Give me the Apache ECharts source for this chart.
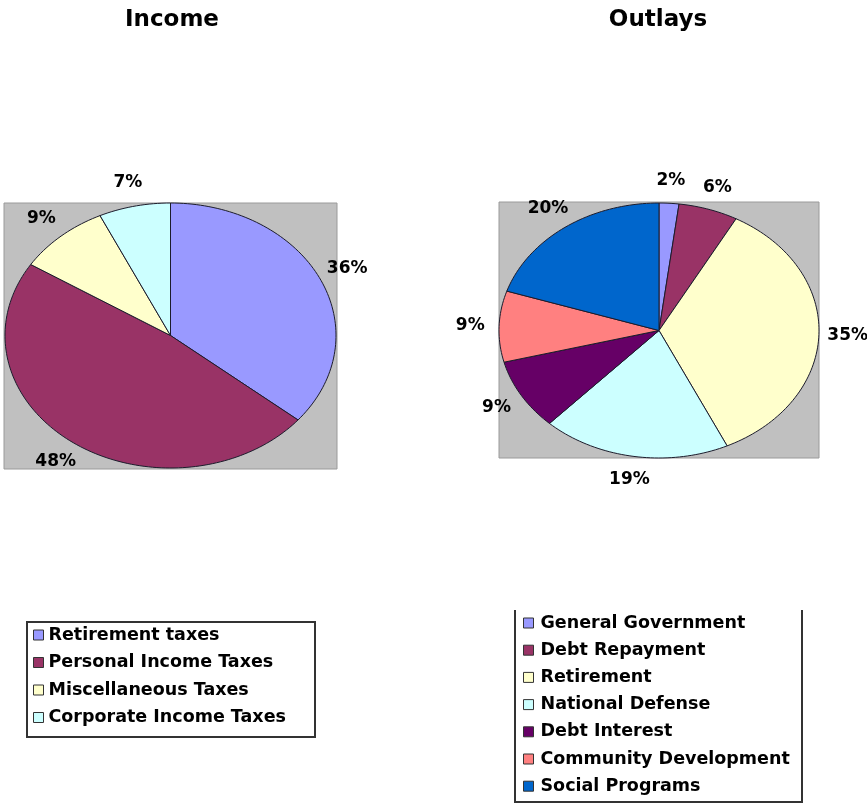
<!DOCTYPE html>
<html>
<head>
<meta charset="utf-8">
<script src="https://cdn.jsdelivr.net/npm/echarts@6/dist/echarts.min.js"></script>
<style>
html,body{margin:0;padding:0;background:#fff;}
#chart{width:867px;height:803px;}
</style>
</head>
<body>
<div id="chart"></div>
<script>
// ---- data ----
const incomeTitle = 'Income';
const incomeCategories = ['Retirement taxes', 'Personal Income Taxes', 'Miscellaneous Taxes', 'Corporate Income Taxes'];
const incomeValues = [36, 48, 9, 7];

const outlayTitle = 'Outlays';
const outlayCategories = ['General Government', 'Debt Repayment', 'Retirement', 'National Defense', 'Debt Interest', 'Community Development', 'Social Programs'];
const outlayValues = [2, 6, 35, 19, 9, 9, 20];

// ---- styles / layout ----
const incomeColors = ['#9999FF', '#993366', '#FFFFCC', '#CCFFFF'];
const outlayColors = ['#9999FF', '#993366', '#FFFFCC', '#CCFFFF', '#660066', '#FF8080', '#0066CC'];
const incomeGeo = { cx: 170.5, cy: 335.5, rx: 165.5, ry: 132.5 };
const outlayGeo = { cx: 659, cy: 330.5, rx: 160, ry: 127.5 };
const FONT = '"DejaVu Sans", "Liberation Sans", Arial, sans-serif';

function buildSeries(cats, vals, colors, geo) {
  const total = vals.reduce((a, b) => a + b, 0);
  let cum = 0;
  return cats.map((name, i) => {
    const start = cum / total;
    cum += vals[i];
    const end = cum / total;
    return {
      type: 'custom',
      name: name,
      coordinateSystem: 'none',
      itemStyle: { color: colors[i] },
      data: [[start, end, vals[i]]],
      renderItem: function (params, api) {
        const s = api.value(0), e = api.value(1), v = api.value(2);
        const pts = [[geo.cx, geo.cy]];
        const n = Math.max(2, Math.ceil((e - s) * 240));
        for (let k = 0; k <= n; k++) {
          const t = 2 * Math.PI * (s + (e - s) * k / n);
          pts.push([geo.cx + geo.rx * Math.sin(t), geo.cy - geo.ry * Math.cos(t)]);
        }
        const m = 2 * Math.PI * (s + e) / 2;
        const kf = 1.18;
        return {
          type: 'group',
          children: [
            { type: 'polygon', shape: { points: pts },
              style: { fill: colors[i], stroke: '#1c1c2c', lineWidth: 1 } },
            { type: 'text',
              x: geo.cx + geo.rx * kf * Math.sin(m),
              y: geo.cy - geo.ry * kf * Math.cos(m),
              style: { text: Math.round(v / total * 100) + '%', fill: '#000',
                       font: 'bold 17px ' + FONT, align: 'center', verticalAlign: 'middle' } }
          ]
        };
      }
    };
  });
}

const chart = echarts.init(document.getElementById('chart'), null, { renderer: 'canvas' });
const option = {
  backgroundColor: '#ffffff',
  animation: false,
  title: [
    { text: incomeTitle, left: 167, top: 4, textAlign: 'center',
      textStyle: { fontFamily: FONT, fontWeight: 'bold', fontSize: 23, color: '#000' } },
    { text: outlayTitle, left: 653, top: 4, textAlign: 'center',
      textStyle: { fontFamily: FONT, fontWeight: 'bold', fontSize: 23, color: '#000' } }
  ],
  legend: [
    { data: incomeCategories, orient: 'vertical', left: 27, top: 622,
      padding: [4, 10, 4, 6], itemWidth: 10, itemHeight: 10, itemGap: 9.5, icon: 'rect',
      selectedMode: false,
      itemStyle: { borderColor: '#333', borderWidth: 1 },
      textStyle: { fontFamily: FONT, fontWeight: 'bold', fontSize: 17.5, color: '#000', lineHeight: 18 } },
    { data: outlayCategories, orient: 'vertical', left: 517, top: 610,
      padding: [4, 10, 4, 6], itemWidth: 10, itemHeight: 10, itemGap: 9.2, icon: 'rect',
      selectedMode: false,
      itemStyle: { borderColor: '#333', borderWidth: 1 },
      textStyle: { fontFamily: FONT, fontWeight: 'bold', fontSize: 17.5, color: '#000', lineHeight: 18, padding: [0, 0, 0, 2] } }
  ],
  graphic: [
    { type: 'rect', z: -10, shape: { x: 4, y: 203, width: 333, height: 266 },
      style: { fill: '#C0C0C0', stroke: '#9a9a9a', lineWidth: 1 } },
    { type: 'rect', z: -10, shape: { x: 499, y: 202, width: 320, height: 256 },
      style: { fill: '#C0C0C0', stroke: '#9a9a9a', lineWidth: 1 } },
    { type: 'rect', z: -10, shape: { x: 27, y: 622, width: 288, height: 115 },
      style: { fill: 'none', stroke: '#333', lineWidth: 2 } },
    { type: 'polyline', z: -10, shape: { points: [[515, 610], [515, 802], [802, 802], [802, 610]] },
      style: { fill: 'none', stroke: '#333', lineWidth: 2 } }
  ],
  series: buildSeries(incomeCategories, incomeValues, incomeColors, incomeGeo)
    .concat(buildSeries(outlayCategories, outlayValues, outlayColors, outlayGeo))
};
chart.setOption(option);
</script>
</body>
</html>
